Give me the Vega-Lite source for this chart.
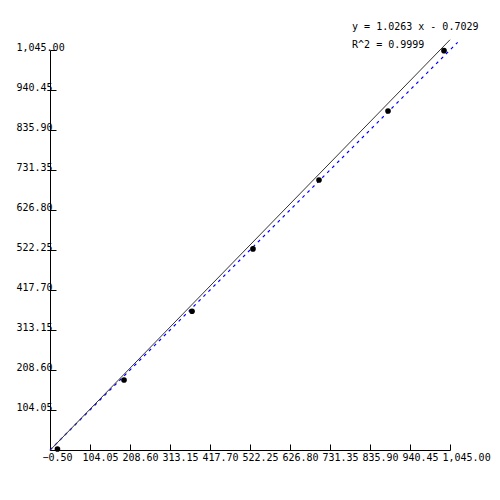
{
  "$schema": "https://vega.github.io/schema/vega-lite/v6.json",
  "width": 400,
  "height": 400,
  "autosize": {"type": "none"},
  "padding": {"left": 50, "top": 50, "right": 50, "bottom": 50},
  "background": "white",
  "config": {
    "view": {"stroke": null},
    "axis": {
      "grid": false,
      "domainColor": "black",
      "tickColor": "black",
      "labelColor": "black",
      "labelFont": "DejaVu Sans Mono",
      "labelFontSize": 10,
      "title": null,
      "labelFlush": false,
      "labelOverlap": false,
      "labelBound": false
    },
    "axisX": {"labelOverlap": false, "labelSeparation": 0}
  },
  "encoding": {
    "x": {"field": "x", "type": "quantitative", "scale": {"domain": [-0.5, 1045], "nice": false, "zero": false},
      "axis": {"values": [-0.5, 104.05, 208.6, 313.15, 417.7, 522.25, 626.8, 731.35, 835.9, 940.45, 1045], "format": ",.2f", "tickSize": -6, "labelAlign": "left", "labelOffset": -8, "labelBaseline": "top", "labelPadding": 8, "labelOverlap": false, "labelFlush": false}},
    "y": {"field": "y", "type": "quantitative", "scale": {"domain": [-0.5, 1045], "nice": false, "zero": false},
      "axis": {"values": [104.05, 208.6, 313.15, 417.7, 522.25, 626.8, 731.35, 835.9, 940.45, 1045], "format": ",.2f", "tickSize": -6, "labelAlign": "left", "labelBaseline": "alphabetic", "labelPadding": 40, "labelOverlap": false, "labelFlush": false}}
  },
  "layer": [
    {
      "data": {"values": [{"x": -0.5, "y": -0.5}, {"x": 1065, "y": 1065}]},
      "mark": {"type": "line", "strokeWidth": 1.2, "strokeDash": [3, 4], "stroke": "#0000ff"},
      "encoding": {}
    },
    {
      "data": {"values": [{"x": -0.5, "y": -1.216}, {"x": 1045, "y": 1071.78}]},
      "mark": {"type": "line", "strokeWidth": 1, "stroke": "#333333"},
      "encoding": {}
    },
    {
      "data": {"values": [
        {"x": 19, "y": 2},
        {"x": 193, "y": 182.5},
        {"x": 370.7, "y": 362.1},
        {"x": 530, "y": 525},
        {"x": 702.6, "y": 705.2},
        {"x": 883, "y": 885.6},
        {"x": 1029.3, "y": 1043.2}
      ]},
      "mark": {"type": "circle", "opacity": 1, "size": 32},
      "encoding": {"color": {"value": "black"}}
    },
    {
      "data": {"values": [
        {"x": 789, "y": 1097.3, "label": "y = 1.0263 x - 0.7029"},
        {"x": 789, "y": 1050.3, "label": "R^2 = 0.9999"}
      ]},
      "mark": {"type": "text", "align": "left", "baseline": "alphabetic", "font": "DejaVu Sans Mono", "fontSize": 10},
      "encoding": {"text": {"field": "label"}, "color": {"value": "black"}}
    }
  ]
}
